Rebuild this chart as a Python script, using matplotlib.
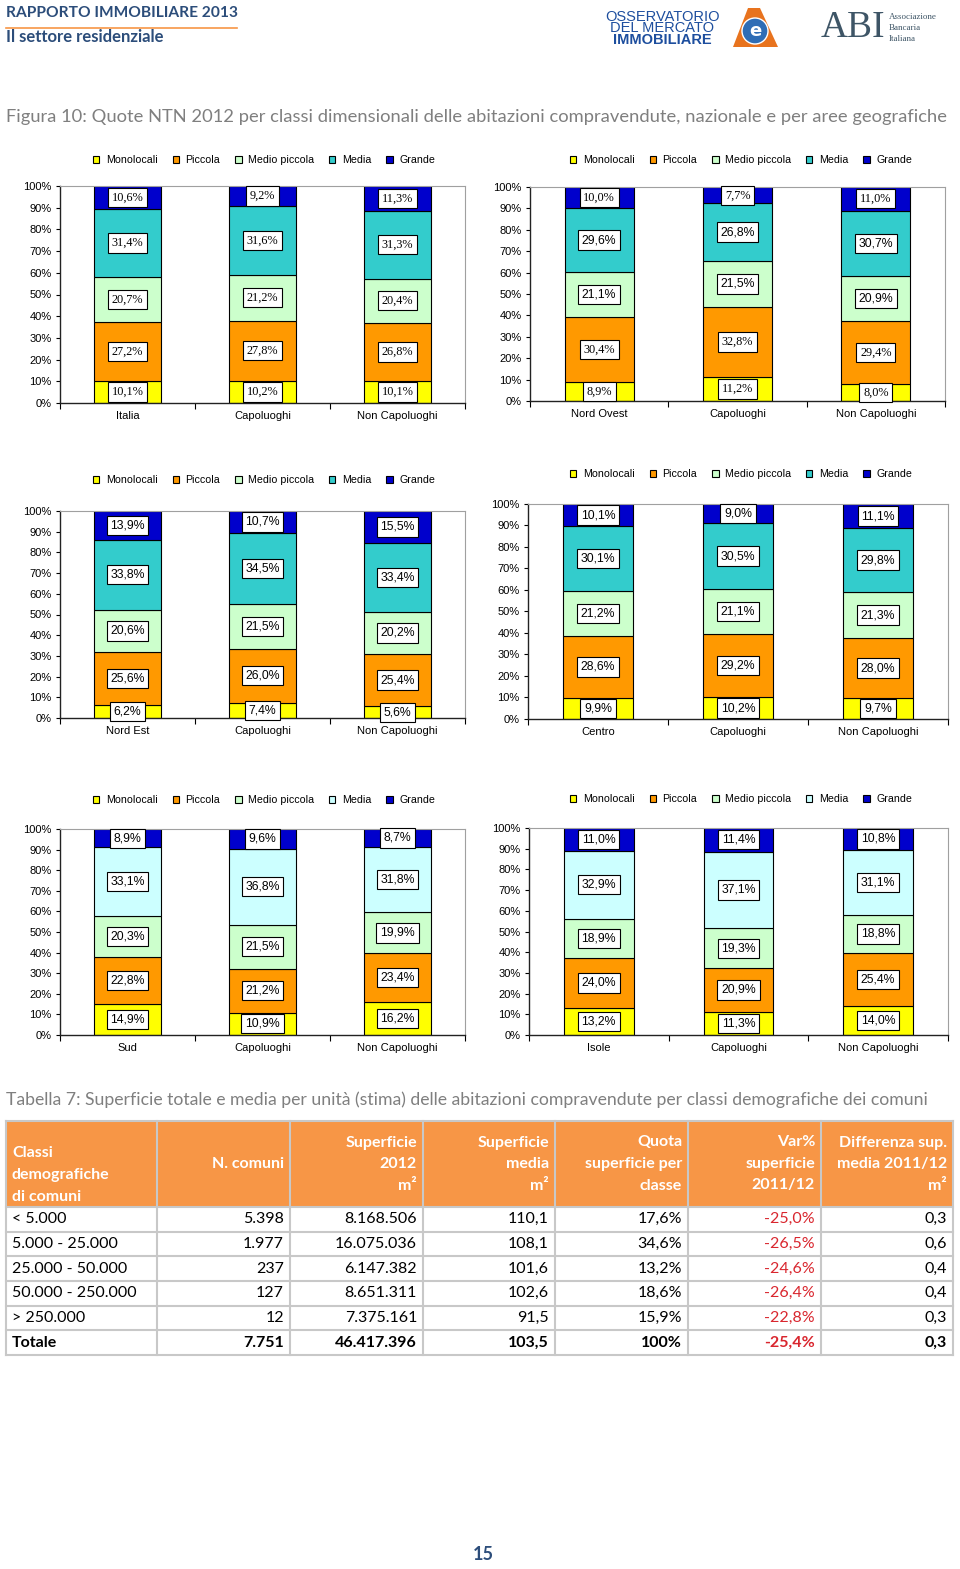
import numpy as np
import matplotlib
matplotlib.use('Agg')
import matplotlib.pyplot as plt
from matplotlib.patches import Rectangle, Circle, Polygon

W, H = 960, 1569

# colours of the five size classes
YELLOW = '#FFFF00'
ORANGE = '#FF9900'
LIGHT_GREEN = '#CCFFCC'
TEAL = '#33CCCC'
LIGHT_CYAN = '#CCFFFF'
BLUE = '#0000CC'
NAVY = '#2C4D7A'
TAB_ORANGE = '#F79646'

SERIES = ['Monolocali', 'Piccola', 'Medio piccola', 'Media', 'Grande']

# rows: Monolocali, Piccola, Medio piccola, Media, Grande
italia_cats = ['Italia', 'Capoluoghi', 'Non Capoluoghi']
italia_vals = [[10.1, 10.2, 10.1], [27.2, 27.8, 26.8], [20.7, 21.2, 20.4],
               [31.4, 31.6, 31.3], [10.6, 9.2, 11.3]]

nordovest_cats = ['Nord Ovest', 'Capoluoghi', 'Non Capoluoghi']
nordovest_vals = [[8.9, 11.2, 8.0], [30.4, 32.8, 29.4], [21.1, 21.5, 20.9],
                  [29.6, 26.8, 30.7], [10.0, 7.7, 11.0]]

nordest_cats = ['Nord Est', 'Capoluoghi', 'Non Capoluoghi']
nordest_vals = [[6.2, 7.4, 5.6], [25.6, 26.0, 25.4], [20.6, 21.5, 20.2],
                [33.8, 34.5, 33.4], [13.9, 10.7, 15.5]]

centro_cats = ['Centro', 'Capoluoghi', 'Non Capoluoghi']
centro_vals = [[9.9, 10.2, 9.7], [28.6, 29.2, 28.0], [21.2, 21.1, 21.3],
               [30.1, 30.5, 29.8], [10.1, 9.0, 11.1]]

sud_cats = ['Sud', 'Capoluoghi', 'Non Capoluoghi']
sud_vals = [[14.9, 10.9, 16.2], [22.8, 21.2, 23.4], [20.3, 21.5, 19.9],
            [33.1, 36.8, 31.8], [8.9, 9.6, 8.7]]

isole_cats = ['Isole', 'Capoluoghi', 'Non Capoluoghi']
isole_vals = [[13.2, 11.3, 14.0], [24.0, 20.9, 25.4], [18.9, 19.3, 18.8],
              [32.9, 37.1, 31.1], [11.0, 11.4, 10.8]]

# Tabella 7
tab_classi = ['< 5.000', '5.000 - 25.000', '25.000 - 50.000', '50.000 - 250.000', '> 250.000', 'Totale']
tab_comuni = ['5.398', '1.977', '237', '127', '12', '7.751']
tab_sup2012 = ['8.168.506', '16.075.036', '6.147.382', '8.651.311', '7.375.161', '46.417.396']
tab_supmedia = ['110,1', '108,1', '101,6', '102,6', '91,5', '103,5']
tab_quota = ['17,6%', '34,6%', '13,2%', '18,6%', '15,9%', '100%']
tab_var = ['-25,0%', '-26,5%', '-24,6%', '-26,4%', '-22,8%', '-25,4%']
tab_diff = ['0,3', '0,6', '0,4', '0,4', '0,3', '0,3']
tab_header = [['Classi', 'demografiche', 'di comuni'], ['N. comuni'], ['Superficie', '2012', 'm²'],
              ['Superficie', 'media', 'm²'], ['Quota', 'superficie per', 'classe'],
              ['Var%', 'superficie', '2011/12'], ['Differenza sup.', 'media 2011/12', 'm²']]

fig = plt.figure(figsize=(W / 100, H / 100), dpi=100)
fig.patch.set_facecolor('white')

# page layer in pixel coordinates
page = fig.add_axes([0, 0, 1, 1])
page.set_xlim(0, W)
page.set_ylim(H, 0)
page.axis('off')


def stacked(rect, cats, vals, media_col, legend_xy, serif_rows=()):
    l, t, r, b = rect
    ax = fig.add_axes([l / W, 1 - b / H, (r - l) / W, (b - t) / H])
    colors = [YELLOW, ORANGE, LIGHT_GREEN, media_col, BLUE]
    x = np.arange(len(cats))
    bottom = np.zeros(len(cats))
    handles = []
    for i, v in enumerate(vals):
        v = np.array(v)
        bars = ax.bar(x, v, 0.5, bottom=bottom, color=colors[i], edgecolor='black',
                      linewidth=0.8, label=SERIES[i], zorder=2)
        handles.append(bars)
        fam = 'Liberation Serif' if i in serif_rows else 'Liberation Sans'
        for xi, yi, vi in zip(x, bottom + v / 2, v):
            ax.text(xi, yi, f'{vi:.1f}%'.replace('.', ','), ha='center', va='center',
                    fontsize=8.8, family=fam, zorder=3,
                    bbox=dict(boxstyle='square,pad=0.3', fc='white', ec='black', lw=0.8))
        bottom += v
    ax.set_xlim(-0.5, len(cats) - 0.5)
    ax.set_ylim(0, 100)
    ax.set_yticks(range(0, 101, 10))
    ax.set_yticklabels([f'{p}%' for p in range(0, 101, 10)], family='Liberation Sans', fontsize=8)
    ax.set_xticks(x)
    ax.set_xticklabels(cats, family='Liberation Sans', fontsize=8)
    ax.set_xticks(np.arange(-0.5, len(cats), 1), minor=True)
    ax.tick_params(axis='x', which='major', length=0, pad=6)
    ax.tick_params(axis='x', which='minor', length=4, width=0.8, direction='out')
    ax.tick_params(axis='y', length=3, width=0.8, pad=3)
    for s in ['top', 'right']:
        ax.spines[s].set_color('#A0A0A0')
        ax.spines[s].set_linewidth(0.8)
    for s in ['left', 'bottom']:
        ax.spines[s].set_color('#222222')
        ax.spines[s].set_linewidth(1)
    ax.legend(handles, SERIES, loc='center', ncol=5, frameon=False,
              bbox_to_anchor=(legend_xy[0] / W, 1 - legend_xy[1] / H), bbox_transform=fig.transFigure,
              prop={'family': 'Liberation Sans', 'size': 7.7},
              handlelength=0.6, handleheight=0.6, handletextpad=0.6, columnspacing=1.4)
    return ax


stacked((60, 186, 465, 403), italia_cats, italia_vals, TEAL, (264, 160), serif_rows=(0, 1, 2, 3, 4))
stacked((530, 187, 945, 401), nordovest_cats, nordovest_vals, TEAL, (741, 160), serif_rows=(0, 1, 4))
stacked((60, 511, 465, 718), nordest_cats, nordest_vals, TEAL, (264, 480))
stacked((528, 504, 948, 719), centro_cats, centro_vals, TEAL, (741, 474))
stacked((60, 829, 465, 1035), sud_cats, sud_vals, LIGHT_CYAN, (264, 800))
stacked((529, 828, 948, 1035), isole_cats, isole_vals, LIGHT_CYAN, (741, 799))

# header
page.text(6, 13, 'RAPPORTO IMMOBILIARE 2013', fontsize=11.2, weight='bold', color=NAVY,
          family='Lato', va='center')
page.plot([6, 237], [27.5, 27.5], color=TAB_ORANGE, lw=1.2)
page.text(6, 37, 'Il settore residenziale', fontsize=12, weight='bold', color=NAVY,
          family='Lato', va='center')

# logos (approximation)
for yy, txt, wt in [(17, 'OSSERVATORIO', 'normal'), (28, 'DEL MERCATO', 'normal'), (40, 'IMMOBILIARE', 'bold')]:
    page.text(662, yy, txt, fontsize=10.5, weight=wt, color='#1D4E9E', ha='center', va='center',
              family='Liberation Sans')
page.add_patch(Polygon([[733, 47], [778, 47], [760, 8], [748, 8]], closed=True, fc='#E8731E', ec='none'))
page.add_patch(Circle((755, 31), 13, fc='#2F6DB5', ec='white', lw=1))
page.text(755, 31, 'e', fontsize=13, weight='bold', color='white', ha='center', va='center')
page.text(853, 28, 'ABI', fontsize=27, color='#3E5566', ha='center', va='center', family='Liberation Serif')
for yy, txt in [(17, 'Associazione'), (28, 'Bancaria'), (39, 'Italiana')]:
    page.text(889, yy, txt, fontsize=6.5, color='#3E5566', va='center', family='Liberation Serif')

# captions
page.text(6, 117, 'Figura 10: Quote NTN 2012 per classi dimensionali delle abitazioni compravendute, '
          'nazionale e per aree geografiche', fontsize=13.2, color='#7F7F7F', family='Lato', va='center')
page.text(6, 1100, 'Tabella 7: Superficie totale e media per unità (stima) delle abitazioni compravendute '
          'per classi demografiche dei comuni', fontsize=12.7, color='#7F7F7F', family='Lato', va='center')

# table
cols = [6, 157, 290, 423, 555, 688, 821, 953]
top, head_bot = 1121, 1207
row_h = (1355 - head_bot) / 6
page.add_patch(Rectangle((cols[0], top), cols[-1] - cols[0], head_bot - top, fc=TAB_ORANGE, ec='none'))
for c in range(7):
    lines = tab_header[c]
    if c == 0:
        for k, ln in enumerate(lines):
            page.text(cols[0] + 6, 1153 + 22 * k, ln, fontsize=11.5, weight='bold', color='white',
                      family='Lato', va='center')
    else:
        y0 = 1164 - 21.5 * (len(lines) - 1) / 2
        for k, ln in enumerate(lines):
            page.text(cols[c + 1] - 6, y0 + 21.5 * k, ln, fontsize=11.5, weight='bold', color='white',
                      family='Lato', va='center', ha='right')

columns = [tab_classi, tab_comuni, tab_sup2012, tab_supmedia, tab_quota, tab_var, tab_diff]
for r in range(6):
    yc = head_bot + row_h * (r + 0.5)
    wt = 'bold' if r == 5 else 'normal'
    for c, col in enumerate(columns):
        color = '#D9262E' if c == 5 else 'black'
        if c == 0:
            page.text(cols[0] + 6, yc, col[r], fontsize=11.5, weight=wt, color=color, family='Lato', va='center')
        else:
            page.text(cols[c + 1] - 6, yc, col[r], fontsize=11.5, weight=wt, color=color, family='Lato',
                      va='center', ha='right')

grid = '#C8C8C8'
for xv in cols:
    page.plot([xv, xv], [top, 1355], color=grid, lw=1.5)
for r in range(7):
    yv = head_bot + row_h * r
    page.plot([cols[0], cols[-1]], [yv, yv], color=grid, lw=1.5)
page.plot([cols[0], cols[-1]], [top, top], color=grid, lw=1.5)

# page number
page.text(483, 1555, '15', fontsize=13, weight='bold', color=NAVY, family='Lato', ha='center', va='center')

fig.savefig('out.png', dpi=100, facecolor='white')
